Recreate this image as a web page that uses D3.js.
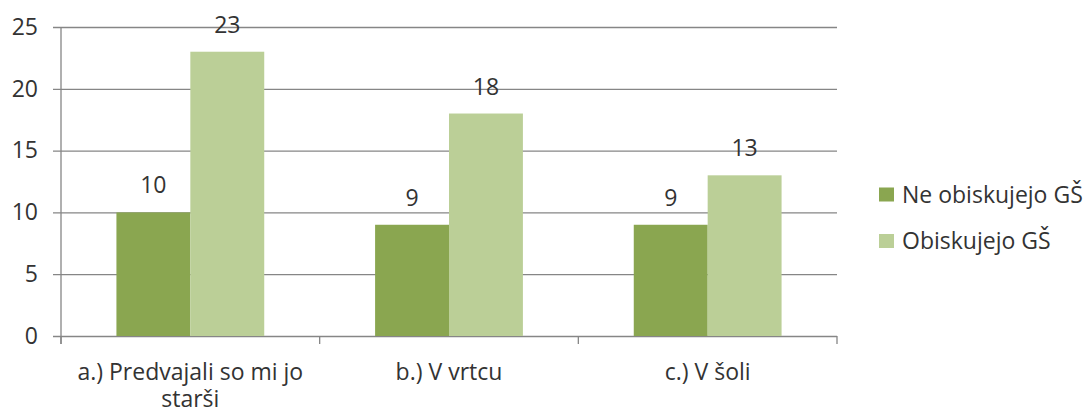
<!DOCTYPE html>
<html lang="sl">
  <head>
    <meta charset="utf-8">
    <style>
      body { margin: 0; background: #fff; }
      svg text { font-family: "Open Sans", sans-serif; font-size: 23px; fill: #333; }
      .grid line { stroke: #868686; stroke-width: 1.3; }
    </style>
  </head>
  <body>
    <svg width="1088" height="412"></svg>

    <script src="https://cdn.jsdelivr.net/npm/d3@7"></script>
    <script>
      var categories = ["a.) Predvajali so mi jo starši", "b.) V vrtcu", "c.) V šoli"];
      var seriesNames = ["Ne obiskujejo GŠ", "Obiskujejo GŠ"];
      var neObiskujejo = [10, 9, 9];
      var obiskujejo = [23, 18, 13];
      var yTicks = [0, 5, 10, 15, 20, 25];
      var colors = ["#8aa650", "#bbcf97"];

      var plotLeft = 61, plotRight = 837, plotTop = 27, plotBottom = 336;
      var svg = d3.select("svg");

      var rows = categories.map(function(c, i) {
        return { cat: c, values: [neObiskujejo[i], obiskujejo[i]] };
      });

      var x0 = d3.scaleBand().domain(categories).range([plotLeft, plotRight]).padding(0);
      var x1 = d3.scaleBand().domain(seriesNames).range([0, x0.bandwidth()])
        .paddingInner(0).paddingOuter(0.75);
      var y = d3.scaleLinear().domain([0, 25]).range([plotBottom, plotTop]);

      // gridlines + y labels
      var yAxis = d3.axisLeft(y)
        .tickValues(yTicks)
        .tickSize(plotRight - plotLeft + 8)
        .tickPadding(15);

      svg.append("g")
        .attr("class", "grid")
        .attr("transform", "translate(" + plotRight + ",0)")
        .call(yAxis)
        .call(function(g) { g.select(".domain").remove(); })
        .selectAll("text")
        .attr("fill", null);

      // vertical axis line
      svg.append("line")
        .attr("x1", plotLeft).attr("x2", plotLeft)
        .attr("y1", plotTop).attr("y2", plotBottom + 8)
        .attr("stroke", "#868686").attr("stroke-width", 1.3);

      // category boundary ticks
      var bounds = categories.map(function(c) { return x0(c); }).concat([plotRight]);
      svg.append("g").selectAll("line")
        .data(bounds)
        .enter()
        .append("line")
        .attr("x1", function(d) { return d; })
        .attr("x2", function(d) { return d; })
        .attr("y1", plotBottom)
        .attr("y2", plotBottom + 8)
        .attr("stroke", "#868686").attr("stroke-width", 1.3);

      // bars
      var groups = svg.append("g").selectAll("g")
        .data(rows)
        .enter()
        .append("g")
        .attr("transform", function(d) { return "translate(" + x0(d.cat) + ",0)"; });

      groups.selectAll("rect")
        .data(function(d) { return d.values; })
        .enter()
        .append("rect")
        .attr("x", function(d, i) { return x1(seriesNames[i]); })
        .attr("y", function(d) { return y(d); })
        .attr("width", x1.bandwidth())
        .attr("height", function(d) { return plotBottom - y(d); })
        .attr("fill", function(d, i) { return colors[i]; });

      groups.selectAll("text.val")
        .data(function(d) { return d.values; })
        .enter()
        .append("text")
        .attr("class", "val")
        .attr("x", function(d, i) { return x1(seriesNames[i]) + x1.bandwidth() / 2; })
        .attr("y", function(d) { return y(d) - 19; })
        .attr("text-anchor", "middle")
        .text(function(d) { return d; });

      // category labels, wrapped to the band width
      function wrap(text, width) {
        text.each(function() {
          var t = d3.select(this);
          var words = t.text().split(/\s+/);
          var xx = t.attr("x");
          t.text(null);
          var line = [];
          var tspan = t.append("tspan").attr("x", xx).attr("dy", 0);
          words.forEach(function(w) {
            line.push(w);
            tspan.text(line.join(" "));
            if (tspan.node().getComputedTextLength() > width && line.length > 1) {
              line.pop();
              tspan.text(line.join(" "));
              line = [w];
              tspan = t.append("tspan").attr("x", xx).attr("dy", 27).text(w);
            }
          });
        });
      }

      svg.append("g").selectAll("text")
        .data(categories)
        .enter()
        .append("text")
        .attr("x", function(d) { return x0(d) + x0.bandwidth() / 2; })
        .attr("y", 380)
        .attr("text-anchor", "middle")
        .text(function(d) { return d; })
        .call(wrap, x0.bandwidth() - 10);

      // legend
      var legend = svg.append("g").selectAll("g")
        .data(seriesNames)
        .enter()
        .append("g")
        .attr("transform", function(d, i) { return "translate(879," + (194.5 + i * 46.5) + ")"; });

      legend.append("rect")
        .attr("x", 0).attr("y", -7)
        .attr("width", 15).attr("height", 14)
        .attr("fill", function(d, i) { return colors[i]; });

      legend.append("text")
        .attr("x", 23)
        .attr("y", 0)
        .attr("dy", "0.36em")
        .text(function(d) { return d; });
    </script>
  </body>
</html>
